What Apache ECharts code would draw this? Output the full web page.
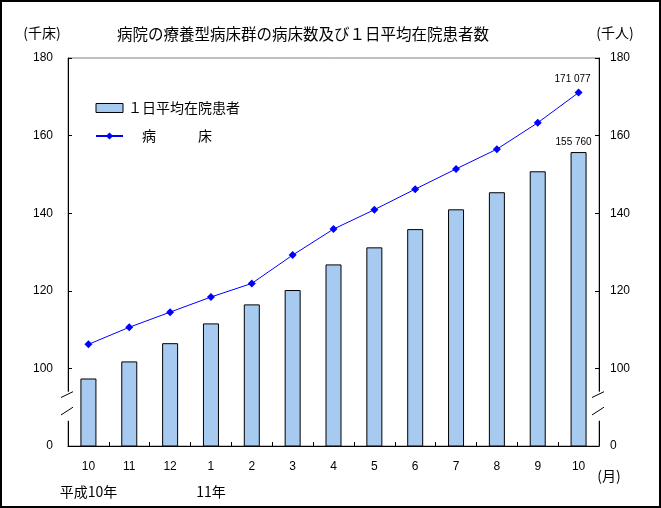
<!DOCTYPE html>
<html><head><meta charset="utf-8">
<script src="https://cdn.jsdelivr.net/npm/echarts@6/dist/echarts.min.js"></script>
<style>html,body{margin:0;padding:0;background:#fff}#c{width:661px;height:508px}</style>
</head><body><div id="c"></div>
<script>
// ---- data ----
const months = ['10','11','12','1','2','3','4','5','6','7','8','9','10'];
const yearLabels = ['平成10年','','','11年','','','','','','','','',''];
// 病床 (千床)
const beds = [106.2,110.6,114.5,118.4,121.9,129.2,135.9,140.9,146.2,151.4,156.5,163.3,171.077];
// 1日平均在院患者 (千人)
const patients = [97.4,101.8,106.5,111.6,116.5,120.2,126.8,131.2,135.9,141.0,145.4,150.8,155.760];
const yMin = 80, yMax = 180, yStep = 20; // bottom tick (80) is shown as "0" (broken axis)
const brokenTickLabel = '0';

const JP = '"Noto Sans CJK JP", sans-serif';
const NUM = '"Liberation Sans", "Noto Sans CJK JP", sans-serif';
const G = {left: 68, right: 62, top: 58, bottom: 62};
const W = 661, H = 508;

function fmt(v){ const n = Math.round(v*1000); return String(n).replace(/\B(?=(\d{3})+(?!\d))/g,' '); }
function lastLabel(arr){ return arr.map((v,i)=> i===arr.length-1 ? {value:v, label:{show:true}} : v); }

const chart = echarts.init(document.getElementById('c'), null, {renderer:'canvas'});

function yAxisCfg(pos, margin){
  return {
    type:'value', position:pos, min:yMin, max:yMax, interval:yStep,
    axisLine:{show:true, lineStyle:{color:'#000', width:1}},
    axisTick:{show:true, inside:true, length:4, lineStyle:{color:'#000'}},
    splitLine:{show:false},
    axisLabel:{margin:margin, fontSize:12, color:'#000', fontFamily:NUM,
      formatter: v => v===yMin ? brokenTickLabel : String(v)}
  };
}

const option = {
  animation:false,
  backgroundColor:'#fff',
  title:{text:'病院の療養型病床群の病床数及び１日平均在院患者数', left:112, top:21,
    textStyle:{fontSize:15.5, fontWeight:'normal', color:'#000', fontFamily:JP}},
  legend:{orient:'vertical', left:90, top:96, itemWidth:27, itemHeight:9, itemGap:14,
    textStyle:{fontSize:14, color:'#000', fontFamily:JP},
    formatter: n => n==='病床' ? '　病　　　床' : n,
    data:[{name:'１日平均在院患者', icon:'rect', itemStyle:{color:'#A6CAF0', borderColor:'#000', borderWidth:1}}, {name:'病床'}]},
  grid:{left:G.left, right:G.right, top:G.top, bottom:G.bottom, show:true, borderColor:'#808080', borderWidth:1},
  xAxis:{type:'category', data:months, boundaryGap:true,
    axisLine:{lineStyle:{color:'#000'}},
    axisTick:{show:true, inside:true, length:4, lineStyle:{color:'#000'}},
    axisLabel:{interval:0, margin:8, fontSize:12, lineHeight:25, color:'#000', fontFamily:NUM,
      rich:{y:{fontSize:14, lineHeight:25, fontFamily:JP, color:'#000'}},
      formatter:(v,i)=> yearLabels[i] ? v + '\n{y|' + yearLabels[i] + '}' : v}},
  yAxis:[yAxisCfg('left',15), yAxisCfg('right',11)],
  series:[
    {name:'１日平均在院患者', type:'bar', yAxisIndex:1, barWidth:16, z:2,
      itemStyle:{color:'#A6CAF0', borderColor:'#000', borderWidth:1},
      label:{show:false, position:'top', distance:5, offset:[-5,0], fontSize:10, color:'#000', fontFamily:NUM,
        formatter:p=>fmt(p.value)},
      emphasis:{disabled:true},
      data:lastLabel(patients)},
    {name:'病床', type:'line', yAxisIndex:0, z:3, symbol:'diamond', symbolSize:8,
      lineStyle:{color:'#0000FF', width:1}, itemStyle:{color:'#0000FF'},
      label:{show:false, position:'top', distance:4, offset:[-6,0], fontSize:10, color:'#000', fontFamily:NUM,
        formatter:p=>fmt(p.value)},
      emphasis:{disabled:true},
      data:lastLabel(beds)}
  ]
};
chart.setOption(option);

// axis break marks & extra texts
const y = v => chart.convertToPixel({yAxisIndex:0}, v);
const axL = G.left, axR = W - G.right;
const gTop = y(94), gBot = y(86.5);
const graphics = [];
[axL, axR].forEach(ax => {
  graphics.push({type:'rect', z:100, shape:{x:ax-3, y:gTop, width:6, height:gBot-gTop}, style:{fill:'#fff'}});
  graphics.push({type:'line', z:101, shape:{x1:ax-7, y1:y(92.5), x2:ax+5, y2:y(94)}, style:{stroke:'#000', lineWidth:1}});
  graphics.push({type:'line', z:101, shape:{x1:ax-7, y1:y(88), x2:ax+5, y2:y(90)}, style:{stroke:'#000', lineWidth:1}});
});
graphics.push({type:'text', z:101, x:42, y:33, style:{text:'(千床)', align:'center', verticalAlign:'middle', fontSize:14, fill:'#000', fontFamily:JP}});
graphics.push({type:'text', z:101, x:615, y:33, style:{text:'(千人)', align:'center', verticalAlign:'middle', fontSize:14, fill:'#000', fontFamily:JP}});
graphics.push({type:'text', z:101, x:609, y:476, style:{text:'(月)', align:'center', verticalAlign:'middle', fontSize:14, fill:'#000', fontFamily:JP}});
graphics.push({type:'rect', z:102, shape:{x:1, y:1, width:W-2, height:H-2}, style:{fill:null, stroke:'#000', lineWidth:2}});
chart.setOption({graphic:graphics});
</script>
</body></html>
